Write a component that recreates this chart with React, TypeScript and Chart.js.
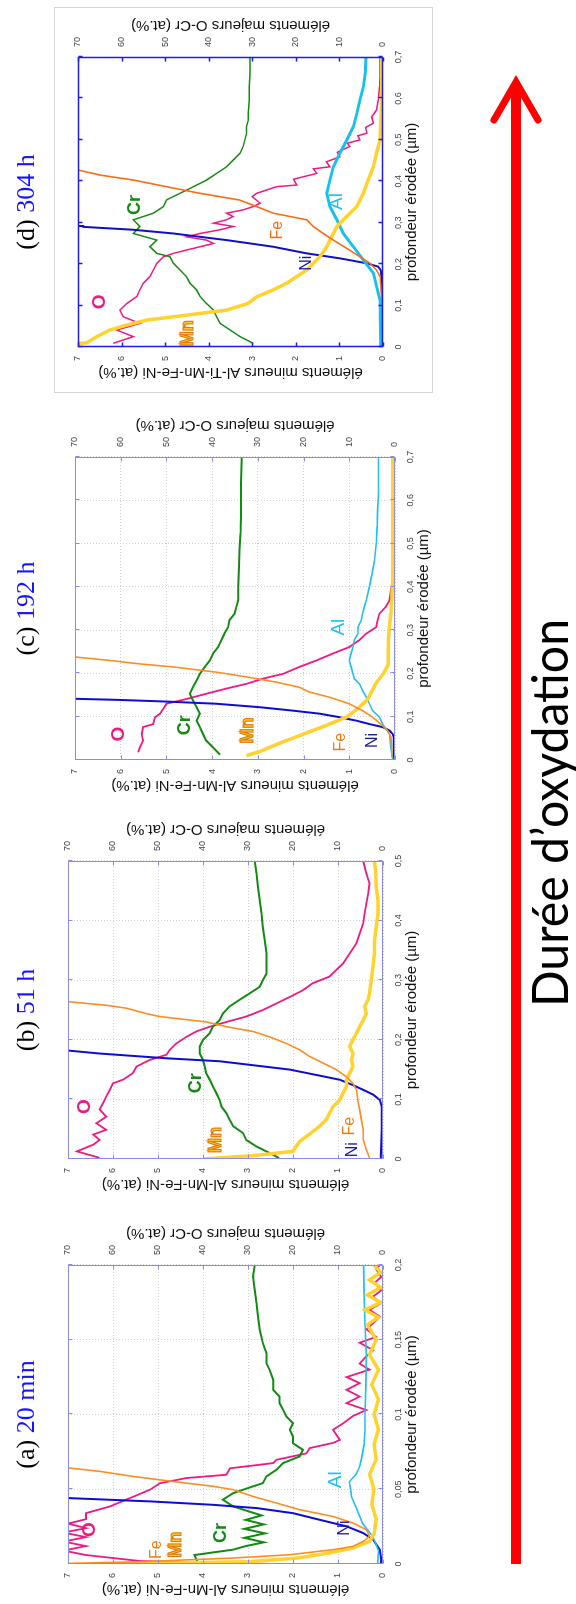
import React, { useEffect, useRef } from "react";
import { Chart, registerables } from "chart.js";

Chart.register(...registerables);

type Pt = [number, number];

// ---------------- data : [profondeur érodée (µm), teneur (at.%)] ----------------
// (a) 20 min
const a_O: Pt[] = [[0,24],[0.002,54],[0.006,66],[0.009,71],[0.012,66],[0.015,71],[0.018,66],[0.021,71],[0.024,66],[0.027,70],[0.03,66],[0.034,66],[0.0385,60.7],[0.045,55.5],[0.0497,51.8],[0.054,49.6],[0.0575,43.7],[0.0597,34.8],[0.064,34],[0.0675,24.4],[0.0697,23.7],[0.074,17],[0.0775,16.3],[0.081,11.1],[0.083,9.6],[0.0898,11.1],[0.094,8.9],[0.099,6.7],[0.103,3.7],[0.1076,8.1],[0.112,5.2],[0.1165,8.1],[0.121,5.2],[0.125,8.1],[0.13,3.0],[0.134,5.2],[0.139,3.7],[0.143,2.2],[0.148,5.2],[0.152,1.5],[0.157,3.7],[0.161,2.2],[0.1655,0.7],[0.17,3.0],[0.174,0.7],[0.179,2.2],[0.183,0.4],[0.188,1.9],[0.192,0.4],[0.197,1.5],[0.2,0.7]];
const a_Cr: Pt[] = [[0,41],[0.006,41.9],[0.0096,33.3],[0.012,30.5],[0.0145,26.5],[0.0175,30.8],[0.0205,26.2],[0.0235,30.8],[0.0265,26.5],[0.0295,30.5],[0.0325,27],[0.0385,33.3],[0.043,35.6],[0.0474,33.3],[0.0508,30],[0.0541,26.7],[0.0586,25.9],[0.063,23.7],[0.0675,22.2],[0.072,18.5],[0.0764,17.8],[0.0808,20],[0.0853,20],[0.0898,20.7],[0.0942,20],[0.0987,21.5],[0.1031,22.2],[0.1076,23],[0.112,23],[0.1165,24.4],[0.1232,24.4],[0.1298,25.2],[0.1343,25.9],[0.141,25.9],[0.1477,26.7],[0.1566,27.4],[0.1655,27.8],[0.1744,28.1],[0.1833,28.5],[0.1922,28.9],[0.2,28.5]];
const a_Ni: Pt[] = [[0,0.05],[0.0029,0.04],[0.0096,0.07],[0.0163,0.22],[0.0207,0.44],[0.0252,0.81],[0.0296,1.41],[0.034,2.0],[0.0374,2.81],[0.0396,3.78],[0.0419,5.19],[0.0441,7.0],[0.046,8]];
const a_Fe: Pt[] = [[0,7.6],[0.0015,5.41],[0.004,3.33],[0.0062,2.07],[0.0096,1.11],[0.0118,0.67],[0.0151,0.44],[0.0185,0.3],[0.023,0.37],[0.0274,0.67],[0.0318,1.11],[0.0363,1.85],[0.0408,2.37],[0.0452,2.89],[0.0497,3.33],[0.052,3.78],[0.0541,4.37],[0.0563,4.96],[0.0586,5.56],[0.062,6.3],[0.0643,7.0],[0.07,7.8]];
const a_Mn: Pt[] = [[0,6.3],[0.0015,3.0],[0.004,1.9],[0.0074,1.19],[0.0107,0.67],[0.0151,0.3],[0.02,0.2],[0.03,0.15],[0.04,0.25],[0.05,0.2],[0.06,0.3],[0.07,0.15],[0.08,0.2],[0.09,0.1],[0.1,0.2],[0.11,0.1],[0.12,0.25],[0.13,0.1],[0.14,0.3],[0.15,0.15],[0.16,0.35],[0.165,0.1],[0.17,0.4],[0.175,0.05],[0.18,0.35],[0.185,0.05],[0.19,0.3],[0.195,0.05],[0.2,0.2]];
const a_Al: Pt[] = [[0,0.12],[0.009,0.1],[0.018,0.22],[0.027,0.45],[0.038,0.6],[0.045,0.7],[0.05,0.72],[0.055,0.75],[0.06,0.6],[0.065,0.52],[0.07,0.48],[0.08,0.42],[0.09,0.4],[0.1,0.4],[0.12,0.38],[0.14,0.37],[0.16,0.4],[0.18,0.42],[0.2,0.43]];
const a_labels: [string, number, number][] = [["O",0.023,6.52],["Fe",0.0096,5.04],["Mn",0.0129,4.59],["Cr",0.0207,3.59],["Ni",0.024,0.85],["Al",0.0563,1.04]];

// (b) 51 h
const b_O: Pt[] = [[0.002,63],[0.0128,68],[0.024,64.4],[0.032,63],[0.041,64.4],[0.049,61.5],[0.06,63.7],[0.071,61.5],[0.083,63],[0.094,62.2],[0.105,61.5],[0.116,60.7],[0.127,60],[0.133,57.8],[0.144,55.6],[0.155,54.8],[0.166,51.9],[0.175,48.1],[0.183,47.4],[0.194,45.9],[0.205,43.7],[0.214,41.5],[0.222,38.5],[0.23,34.8],[0.239,30.4],[0.25,26.7],[0.261,23.7],[0.272,20.7],[0.283,17.8],[0.295,15.6],[0.306,11.9],[0.317,10.4],[0.328,8.9],[0.345,7.4],[0.362,5.9],[0.378,5.2],[0.395,4.4],[0.412,4.1],[0.429,3.7],[0.445,3.3],[0.462,3.0],[0.479,3.7],[0.5,4.4]];
const b_Cr: Pt[] = [[0.0017,23.1],[0.01,25.2],[0.021,28.1],[0.032,30.4],[0.0435,31.1],[0.055,33.3],[0.066,34.1],[0.077,34.8],[0.088,35.9],[0.099,36.3],[0.11,37],[0.122,37.8],[0.133,38.5],[0.144,39.3],[0.155,39.6],[0.166,40],[0.177,40.7],[0.189,40.7],[0.2,40],[0.211,38.5],[0.222,37.8],[0.233,36.3],[0.244,35.6],[0.256,34.1],[0.267,31.9],[0.278,29.6],[0.289,27.4],[0.3,26.7],[0.311,25.9],[0.328,25.9],[0.345,25.9],[0.367,26.3],[0.39,26.7],[0.412,27],[0.434,27.4],[0.456,27.8],[0.479,28.1],[0.5,28.5]];
const b_Ni: Pt[] = [[0,0.05],[0.05,0.03],[0.088,0.03],[0.099,0.07],[0.108,0.22],[0.116,0.44],[0.124,0.67],[0.133,0.96],[0.141,1.48],[0.15,2.07],[0.158,2.96],[0.164,3.63],[0.169,4.81],[0.173,5.56],[0.177,6.3],[0.182,7],[0.19,8]];
const b_Fe: Pt[] = [[0.002,0.3],[0.016,0.37],[0.032,0.44],[0.049,0.44],[0.066,0.48],[0.083,0.52],[0.099,0.56],[0.116,0.59],[0.127,0.67],[0.138,0.81],[0.15,1.04],[0.161,1.33],[0.172,1.63],[0.183,1.85],[0.194,2.15],[0.205,2.52],[0.214,2.89],[0.222,3.48],[0.23,3.93],[0.239,4.96],[0.244,5.26],[0.253,5.7],[0.258,6.15],[0.264,7],[0.27,7.8]];
const b_Mn: Pt[] = [[0,4.0],[0.0056,2.89],[0.0128,2.0],[0.021,1.93],[0.0296,1.85],[0.038,1.7],[0.046,1.56],[0.055,1.41],[0.066,1.26],[0.077,1.19],[0.088,1.11],[0.099,0.96],[0.11,0.89],[0.122,0.81],[0.133,0.81],[0.144,0.74],[0.155,0.67],[0.166,0.7],[0.177,0.67],[0.189,0.74],[0.2,0.67],[0.211,0.59],[0.222,0.52],[0.233,0.44],[0.244,0.37],[0.256,0.41],[0.267,0.33],[0.278,0.3],[0.3,0.26],[0.323,0.22],[0.345,0.19],[0.367,0.19],[0.39,0.15],[0.412,0.11],[0.434,0.11],[0.456,0.15],[0.479,0.16],[0.5,0.19]];
const b_labels: [string, number, number][] = [["O",0.088,6.63],["Cr",0.127,4.15],["Mn",0.032,3.7],["Fe",0.055,0.74],["Ni",0.0156,0.67]];

// (c) 192 h
const c_O: Pt[] = [[0.0178,56.2],[0.029,55.8],[0.045,55.1],[0.06,55.4],[0.076,55.1],[0.083,52.9],[0.099,52.5],[0.107,51.4],[0.118,50.7],[0.13,50],[0.141,45.6],[0.153,41.3],[0.165,36.9],[0.176,32.5],[0.188,28.9],[0.199,24.5],[0.215,20.9],[0.23,17.2],[0.246,13.6],[0.261,10],[0.277,7.8],[0.292,6.3],[0.307,4.1],[0.323,3.8],[0.338,3.4],[0.354,2.0],[0.369,1.2],[0.392,0.9],[0.416,0.5],[0.447,0.3],[0.485,0.15],[0.524,0.15],[0.6,0.1],[0.7,0.1]];
const c_Cr: Pt[] = [[0.0124,38.3],[0.029,39.8],[0.045,41.3],[0.06,42],[0.076,42.7],[0.091,43.4],[0.107,42.7],[0.122,43.4],[0.138,44.2],[0.153,44.9],[0.168,44.2],[0.184,43.4],[0.199,42.7],[0.215,41.6],[0.23,40.5],[0.246,39.8],[0.261,38.7],[0.277,38],[0.292,37.3],[0.307,36.5],[0.323,36.2],[0.338,35.1],[0.354,34.7],[0.369,34.3],[0.4,34.3],[0.447,34.1],[0.485,34],[0.524,33.8],[0.563,33.7],[0.6,33.7],[0.64,33.7],[0.7,33.5]];
const c_Ni: Pt[] = [[0,0.03],[0.053,0.03],[0.06,0.05],[0.068,0.12],[0.076,0.27],[0.083,0.56],[0.091,0.85],[0.099,1.22],[0.107,1.65],[0.114,2.23],[0.122,2.96],[0.13,3.91],[0.135,5.0],[0.139,6.09],[0.1414,7],[0.145,8]];
const c_Fe: Pt[] = [[0.006,0.07],[0.029,0.07],[0.053,0.09],[0.068,0.16],[0.083,0.31],[0.099,0.49],[0.114,0.71],[0.13,1.0],[0.145,1.43],[0.157,1.87],[0.168,2.09],[0.18,2.6],[0.192,3.25],[0.203,3.91],[0.215,4.85],[0.222,5.58],[0.23,6.24],[0.238,7],[0.245,7.8]];
const c_Mn: Pt[] = [[0.01,3.25],[0.02,2.95],[0.04,2.5],[0.06,2.0],[0.08,1.5],[0.1,1.05],[0.12,0.8],[0.14,0.6],[0.16,0.5],[0.18,0.4],[0.2,0.25],[0.22,0.15],[0.25,0.15],[0.28,0.14],[0.31,0.12],[0.34,0.09],[0.37,0.07],[0.42,0.05],[0.5,0.05],[0.6,0.05],[0.7,0.05]];
const c_Al: Pt[] = [[0.002,0.05],[0.029,0.09],[0.06,0.12],[0.083,0.27],[0.099,0.34],[0.114,0.49],[0.13,0.56],[0.145,0.63],[0.161,0.71],[0.176,0.78],[0.188,0.89],[0.199,0.92],[0.215,0.96],[0.23,1.0],[0.246,0.96],[0.261,0.92],[0.277,0.89],[0.292,0.81],[0.307,0.81],[0.323,0.74],[0.338,0.71],[0.354,0.67],[0.369,0.63],[0.4,0.56],[0.431,0.5],[0.462,0.45],[0.5,0.41],[0.539,0.39],[0.578,0.38],[0.617,0.36],[0.655,0.36],[0.7,0.36]];
const c_labels: [string, number, number][] = [["O",0.06,6.05],["Cr",0.08,4.6],["Mn",0.068,3.22],["Fe",0.041,1.18],["Ni",0.045,0.5],["Al",0.307,1.22]];

// (d) 304 h
const d_O: Pt[] = [[0.009,61.9],[0.025,57.3],[0.041,61.1],[0.057,55.8],[0.073,59.6],[0.089,60.4],[0.105,58.8],[0.122,56.5],[0.138,55.8],[0.154,55],[0.17,53.5],[0.186,52.7],[0.202,51.9],[0.218,50.4],[0.226,48.1],[0.234,45.1],[0.242,42],[0.25,38.9],[0.258,40.5],[0.266,45.1],[0.274,42],[0.283,37.4],[0.291,34.4],[0.299,38.9],[0.307,35.9],[0.315,34.4],[0.323,35.9],[0.331,32.1],[0.339,29.8],[0.347,28.2],[0.363,30],[0.371,29],[0.387,24.4],[0.391,19.8],[0.405,20.5],[0.419,15.2],[0.43,16],[0.435,12.2],[0.447,13],[0.459,9.9],[0.47,10.5],[0.484,7.6],[0.492,8.2],[0.5,5.3],[0.51,5.8],[0.516,3.7],[0.53,4],[0.54,2.2],[0.555,2.6],[0.572,1.5],[0.596,1.1],[0.628,0.8],[0.652,0.7],[0.7,0.7]];
const d_Cr: Pt[] = [[0.009,29.8],[0.025,32.8],[0.041,35.1],[0.057,37.4],[0.073,38.2],[0.089,38.9],[0.105,40.5],[0.122,42],[0.138,42.8],[0.154,44.3],[0.17,45.1],[0.186,46.6],[0.202,48.1],[0.218,48.9],[0.226,51.9],[0.242,53.5],[0.258,51.9],[0.274,57.3],[0.291,55.8],[0.307,57.3],[0.323,52.7],[0.339,50.4],[0.355,49.7],[0.371,46.6],[0.387,43.5],[0.403,40.5],[0.419,38.2],[0.435,35.9],[0.451,34.4],[0.468,32.8],[0.484,32.1],[0.5,31.7],[0.516,31.3],[0.532,31.3],[0.548,30.9],[0.564,30.9],[0.596,30.7],[0.628,30.7],[0.661,30.5],[0.7,30.5]];
const d_Ni: Pt[] = [[0,0.02],[0.15,0.02],[0.185,0.05],[0.194,0.11],[0.202,0.37],[0.214,0.99],[0.226,1.75],[0.242,2.52],[0.25,3.05],[0.258,3.59],[0.266,4.2],[0.274,4.81],[0.283,5.73],[0.29,6.88],[0.292,7.2]];
const d_Fe: Pt[] = [[0,0.03],[0.113,0.03],[0.17,0.07],[0.186,0.15],[0.202,0.3],[0.218,0.53],[0.238,0.83],[0.258,1.14],[0.274,1.37],[0.291,1.6],[0.307,1.75],[0.315,2.13],[0.323,2.52],[0.339,2.9],[0.355,3.3],[0.371,4.2],[0.387,4.97],[0.403,5.73],[0.415,6.49],[0.427,6.99],[0.44,7.5]];
const d_Mn: Pt[] = [[0.005,7.5],[0.01,6.8],[0.025,6.57],[0.041,6.27],[0.053,5.88],[0.065,5.42],[0.073,4.81],[0.081,4.2],[0.089,3.59],[0.105,3.1],[0.121,2.9],[0.138,2.52],[0.154,2.21],[0.17,1.98],[0.186,1.75],[0.202,1.6],[0.218,1.45],[0.242,1.29],[0.266,1.18],[0.291,1.06],[0.307,0.91],[0.323,0.76],[0.339,0.6],[0.371,0.45],[0.403,0.34],[0.435,0.22],[0.468,0.15],[0.5,0.07],[0.596,0.03],[0.7,0.03]];
const d_Al: Pt[] = [[0,0.05],[0.113,0.07],[0.178,0.22],[0.21,0.45],[0.242,0.68],[0.274,0.91],[0.307,1.06],[0.339,1.22],[0.371,1.29],[0.403,1.22],[0.435,1.14],[0.468,0.99],[0.5,0.83],[0.532,0.68],[0.564,0.6],[0.596,0.53],[0.628,0.45],[0.661,0.41],[0.7,0.39]];
const d_labels: [string, number, number][] = [["O",0.109,6.5],["Cr",0.343,5.69],["Mn",0.033,4.47],["Fe",0.282,2.43],["Ni",0.202,1.75],["Al",0.351,1.06]];

// axes
const panelLetters = ["(a)", "(b)", "(c)", "(d)"];
const panelTimes = ["20 min", "51 h", "192 h", "304 h"];
const depthMax = [0.2, 0.5, 0.7, 0.7];
const depthStep = [0.05, 0.1, 0.1, 0.1];
const minorMax = 7;
const majorMax = 70;
const xTitle = "profondeur érodée (µm)";
const minorTitles = [
  "éléments mineurs Al-Mn-Fe-Ni (at.%)",
  "éléments mineurs Al-Mn-Fe-Ni (at.%)",
  "éléments mineurs Al-Mn-Fe-Ni (at.%)",
  "éléments mineurs Al-Ti-Mn-Fe-Ni (at.%)",
];
const majorTitle = "éléments majeurs O-Cr (at.%)";
const arrowText = "Durée d’oxydation";

// ---------------- styles / layout ----------------
const SANS = "'Liberation Sans', Arial, sans-serif";
const LW = 36, RW = 44, BH = 40;
const PLOTS = [
  { left: 40, top: 68, width: 299, height: 315 },
  { left: 445, top: 68, width: 298, height: 315 },
  { left: 844, top: 75, width: 303, height: 320 },
  { left: 1257, top: 78, width: 290, height: 305 },
];
const COLORS: Record<string, string> = {
  O: "#ec1a82", Cr: "#148a14", Ni: "#0c0cd6", Fe: "#ff8c1e", Mn: "#ffd22e", Al: "#22bff0",
};
const COLORS_D: Record<string, string> = {
  O: "#ec1a82", Cr: "#148a14", Ni: "#1010c0", Fe: "#ff6a10", Mn: "#ffd22e", Al: "#18c0f0",
};
const WIDTHS: Record<string, number> = { O: 1.8, Cr: 2, Ni: 2, Fe: 1.6, Mn: 3.5, Al: 1.6 };
const WIDTHS_D: Record<string, number> = { O: 1.5, Cr: 1.5, Ni: 2, Fe: 1.6, Mn: 3.5, Al: 3 };
const LABEL_STYLE: Record<string, { color: string; font: string; stroke?: string }> = {
  O: { color: "#ec1a82", font: "bold 19px" },
  Cr: { color: "#148a14", font: "bold 18px" },
  Mn: { color: "#ffd42a", font: "bold 18px", stroke: "#e07a10" },
  Fe: { color: "#f07a14", font: "16px" },
  Ni: { color: "#1a1aa0", font: "16px" },
  Al: { color: "#22bff0", font: "19px" },
};

const PANEL_SERIES: Record<string, Pt[]>[] = [
  { Fe: a_Fe, Mn: a_Mn, Al: a_Al, Ni: a_Ni, Cr: a_Cr, O: a_O },
  { Fe: b_Fe, Mn: b_Mn, Ni: b_Ni, Cr: b_Cr, O: b_O },
  { Fe: c_Fe, Mn: c_Mn, Al: c_Al, Ni: c_Ni, Cr: c_Cr, O: c_O },
  { Fe: d_Fe, Mn: d_Mn, Al: d_Al, Ni: d_Ni, Cr: d_Cr, O: d_O },
];
const PANEL_LABELS = [a_labels, b_labels, c_labels, d_labels];
const MAJOR = new Set(["O", "Cr"]);

const fmtDepth = (v: any) => {
  const s = (+v).toFixed(2).replace(/0+$/, "").replace(/\.$/, "");
  return s.replace(".", ",");
};

const overlayPlugin = {
  id: "overlay",
  afterDraw(chart: any) {
    const o = chart.options.plugins.overlay;
    const { ctx, chartArea: ca } = chart;
    const xs = chart.scales.x, ys = chart.scales.y;
    ctx.save();
    // element labels
    for (const [txt, dx, vy] of o.labels) {
      const st = LABEL_STYLE[txt];
      const px = xs.getPixelForValue(dx), py = ys.getPixelForValue(vy);
      ctx.font = `${st.font} ${SANS}`;
      ctx.textAlign = "center";
      ctx.textBaseline = "middle";
      ctx.fillStyle = o.panel === 3 && txt === "Fe" ? "#ff6a10" : st.color;
      ctx.fillText(txt, px, py);
      if (st.stroke) {
        ctx.lineWidth = 1.2;
        ctx.strokeStyle = st.stroke;
        ctx.strokeText(txt, px, py);
      }
    }
    // frame + inner ticks
    ctx.strokeStyle = o.frameColor;
    ctx.lineWidth = o.frameWidth;
    const L = Math.round(ca.left) + 0.5, R = Math.round(ca.right) - 0.5;
    const T = Math.round(ca.top) + 0.5, B = Math.round(ca.bottom) - 0.5;
    ctx.strokeRect(L, T, R - L, B - T);
    ctx.beginPath();
    for (const t of ys.ticks) {
      const y = Math.round(ys.getPixelForValue(t.value)) + 0.5;
      ctx.moveTo(L, y); ctx.lineTo(L + 4, y);
      ctx.moveTo(R, y); ctx.lineTo(R - 4, y);
    }
    for (const t of xs.ticks) {
      const x = Math.round(xs.getPixelForValue(t.value)) + 0.5;
      ctx.moveTo(x, B); ctx.lineTo(x, B - 4);
      ctx.moveTo(x, T); ctx.lineTo(x, T + 4);
    }
    ctx.stroke();
    // right axis title (reads bottom-to-top)
    ctx.translate(ca.right + 32, (ca.top + ca.bottom) / 2);
    ctx.rotate(-Math.PI / 2);
    ctx.font = `15px ${SANS}`;
    ctx.fillStyle = "#111";
    ctx.textAlign = "center";
    ctx.textBaseline = "middle";
    ctx.fillText(majorTitle, 0, 0);
    ctx.restore();
  },
};

function Panel({ idx }: { idx: number }) {
  const ref = useRef<HTMLCanvasElement | null>(null);
  const p = PLOTS[idx];
  const cw = LW + p.width + RW;
  const chh = p.top + p.height + BH;
  useEffect(() => {
    if (!ref.current) return;
    const isD = idx === 3;
    const series = PANEL_SERIES[idx];
    const datasets = Object.keys(series).map((name) => ({
      label: name,
      data: series[name].map(([x, y]) => ({ x, y })),
      borderColor: (isD ? COLORS_D : COLORS)[name],
      borderWidth: (isD ? WIDTHS_D : WIDTHS)[name],
      pointRadius: 0,
      tension: 0,
      fill: false,
      yAxisID: MAJOR.has(name) ? "y2" : "y",
      clip: 0,
    }));
    const gridOn = !isD;
    const chart = new Chart(ref.current, {
      type: "line",
      data: { datasets } as any,
      plugins: [overlayPlugin as any],
      options: {
        responsive: false,
        animation: false,
        devicePixelRatio: 1,
        layout: { padding: { top: p.top, left: 0, right: 0, bottom: 0 } },
        plugins: {
          legend: { display: false },
          tooltip: { enabled: false },
          overlay: {
            labels: PANEL_LABELS[idx],
            frameColor: isD ? "#1c1cf0" : "#8a8aee",
            frameWidth: isD ? 1.5 : 1,
            panel: idx,
          },
        } as any,
        scales: {
          x: {
            type: "linear",
            position: "bottom",
            min: 0,
            max: depthMax[idx],
            ticks: {
              stepSize: depthStep[idx],
              callback: fmtDepth,
              font: { size: 9, family: SANS },
              color: "#444",
              padding: 10,
              maxRotation: 0,
              autoSkip: false,
            },
            grid: { display: gridOn, color: "#cfcfcf", lineWidth: 1, drawTicks: false },
            border: { display: false, dash: [1, 2] },
            title: {
              display: true,
              text: xTitle,
              font: { size: 15, family: SANS },
              color: "#111",
              padding: { top: 0, bottom: 2 },
            },
            afterFit: (s: any) => { s.height = BH; },
          },
          y: {
            type: "linear",
            position: "left",
            min: 0,
            max: minorMax,
            ticks: {
              stepSize: 1,
              font: { size: 9, family: SANS },
              color: "#444",
              padding: 9,
            },
            grid: { display: gridOn, color: "#cfcfcf", lineWidth: 1, drawTicks: false },
            border: { display: false, dash: [1, 2] },
            title: {
              display: true,
              text: minorTitles[idx],
              font: { size: 15, family: SANS },
              color: "#111",
              padding: { top: 2, bottom: 0 },
            },
            afterFit: (s: any) => { s.width = LW; },
          },
          y2: {
            type: "linear",
            position: "right",
            min: 0,
            max: majorMax,
            ticks: {
              stepSize: 10,
              font: { size: 9, family: SANS },
              color: "#444",
              padding: 10,
            },
            grid: { display: false, drawTicks: false },
            border: { display: false },
            afterFit: (s: any) => { s.width = RW; },
          },
        },
      } as any,
    });
    return () => chart.destroy();
  }, [idx]);
  return (
    <canvas
      ref={ref}
      width={cw}
      height={chh}
      style={{ position: "absolute", left: p.left - LW, top: 0, width: cw, height: chh }}
    />
  );
}

function PanelTitle({ idx }: { idx: number }) {
  const p = PLOTS[idx];
  const cx = p.left + p.width / 2;
  return (
    <div
      style={{
        position: "absolute",
        left: cx - 110,
        width: 220,
        top: 8,
        height: 36,
        lineHeight: "36px",
        textAlign: "center",
        fontFamily: "'Liberation Serif', 'Times New Roman', serif",
        fontSize: 26,
        color: "#000",
        whiteSpace: "nowrap",
      }}
    >
      {panelLetters[idx]} <span style={{ color: "#1414ff" }}>{panelTimes[idx]}</span>
    </div>
  );
}

function ArrowText() {
  const ref = useRef<HTMLDivElement | null>(null);
  useEffect(() => {
    const el = ref.current;
    if (!el) return;
    const w = el.offsetWidth;
    if (w > 0) el.style.transform = `scaleX(${388 / w})`;
  }, []);
  return (
    <div
      ref={ref}
      style={{
        position: "absolute",
        left: 597,
        top: 524,
        height: 50,
        lineHeight: "50px",
        fontFamily: "Lato, 'Open Sans', sans-serif",
        fontSize: 50,
        color: "#000",
        whiteSpace: "nowrap",
        transformOrigin: "0 50%",
      }}
    >
      {arrowText}
    </div>
  );
}

export default function App() {
  return (
    <div
      style={{
        position: "absolute",
        left: 0,
        top: 0,
        width: 576,
        height: 1604,
        overflow: "hidden",
        background: "#fff",
      }}
    >
      <div
        style={{
          position: "absolute",
          left: 0,
          top: 0,
          width: 1604,
          height: 576,
          transformOrigin: "0 0",
          transform: "translate(0px, 1604px) rotate(-90deg)",
        }}
      >
        <div
          style={{
            position: "absolute",
            left: 1211,
            top: 54,
            width: 384,
            height: 377,
            border: "1px solid #d6d6d6",
          }}
        />
        {[0, 1, 2, 3].map((i) => (
          <Panel key={"p" + i} idx={i} />
        ))}
        {[0, 1, 2, 3].map((i) => (
          <PanelTitle key={"t" + i} idx={i} />
        ))}
        <svg
          width={1604}
          height={576}
          style={{ position: "absolute", left: 0, top: 0 }}
        >
          <line x1={40} y1={516} x2={1520} y2={516} stroke="#ff0000" strokeWidth={10} />
          <polyline
            points="1484,494 1522,516 1484,538"
            fill="none"
            stroke="#ff0000"
            strokeWidth={7}
            strokeLinecap="round"
            strokeLinejoin="miter"
          />
        </svg>
        <ArrowText />
      </div>
    </div>
  );
}
